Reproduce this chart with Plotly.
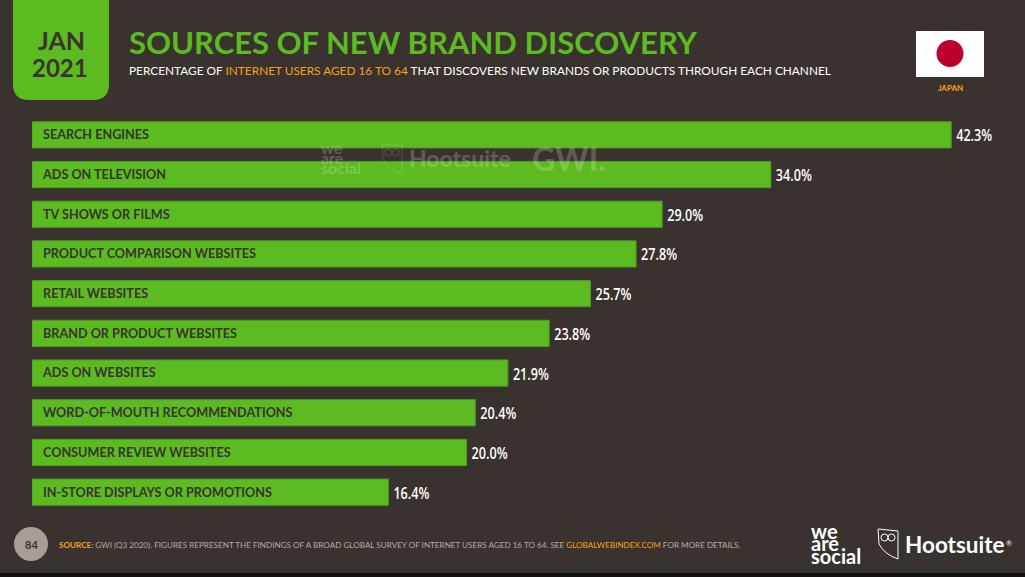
# sources of new brand discovery, japan
import plotly.graph_objects as go

W, H = 1025, 577

channels = ["SEARCH ENGINES", "ADS ON TELEVISION", "TV SHOWS OR FILMS", "PRODUCT COMPARISON WEBSITES",
            "RETAIL WEBSITES", "BRAND OR PRODUCT WEBSITES", "ADS ON WEBSITES",
            "WORD-OF-MOUTH RECOMMENDATIONS", "CONSUMER REVIEW WEBSITES", "IN-STORE DISPLAYS OR PROMOTIONS"]
shares = [42.3, 34.0, 29.0, 27.8, 25.7, 23.8, 21.9, 20.4, 20.0, 16.4]

BG = "#3a322e"
GREEN = "#5bbb21"
DARK = "#3a322e"
ORANGE = "#f7a11a"
FONT = "Lato"

# value labels in the original are a condensed face, none is installed so squeeze them after drawing.
# the stacked we/are/social logo also needs tighter leading than plotly gives
AFTER_DRAW = """
document.body.style.margin = '0';
setTimeout(function () {
  document.querySelectorAll('text.bartext').forEach(function (t) {
    var w = t.getComputedTextLength();
    t.setAttribute('x', parseFloat(t.getAttribute('x')) - (w - 36) / 2 + 2);
    t.setAttribute('textLength', 36);
    t.setAttribute('lengthAdjust', 'spacingAndGlyphs');
  });
  document.querySelectorAll('.annotation-text').forEach(function (t) {
    var lines = t.querySelectorAll('tspan.line');
    if (lines.length == 3) {
      lines.forEach(function (l, i) { l.setAttribute('dy', (i * 0.62) + 'em'); });
    }
  });
}, 50);
"""


# page pixels to paper coordinates
def px(x):
    return x / W


def py(y):
    return 1 - y / H


fig = go.Figure()
fig.add_trace(go.Bar(
    x=shares, y=channels, orientation="h", width=0.66,
    marker=dict(color=GREEN, line=dict(color="#4f9c22", width=1)),
    text=[f"{v:.1f}%" for v in shares], textposition="outside", cliponaxis=False,
    textfont=dict(family="Open Sans", size=17, color="white", weight=600),
    hoverinfo="skip",
))


def label(x, y, text, size, color, anchor="left", weight="normal", family=FONT, opacity=1, height=None, align="center"):
    fig.add_annotation(xref="paper", yref="paper", x=px(x), y=py(y), text=text, showarrow=False,
                       xanchor=anchor, yanchor="middle", opacity=opacity, height=height, align=align,
                       font=dict(family=family, size=size, color=color, weight=weight))


def box(x0, y0, x1, y1, color, kind="rect", layer="below", edge=None, opacity=1):
    fig.add_shape(type=kind, xref="paper", yref="paper", x0=px(x0), y0=py(y0), x1=px(x1), y1=py(y1),
                  fillcolor=color, line=dict(color=edge or color, width=1 if edge else 0), layer=layer,
                  opacity=opacity)


def owl(x, y, opacity=1):
    # shield outline and eye rings, x and y are the top left of the logo
    fig.add_shape(type="path", xref="paper", yref="paper", opacity=opacity, layer="above",
                  line=dict(color="white", width=1),
                  path=f"M {px(x)},{py(y)} L {px(x + 20)},{py(y + 2)} L {px(x + 20)},{py(y + 30)} "
                       f"Q {px(x + 6)},{py(y + 25)} {px(x + 1)},{py(y + 15)} Z")
    box(x + 3, y + 5, x + 10, y + 12, "rgba(0,0,0,0)", "circle", "above", "white", opacity)
    box(x + 10, y + 5, x + 17, y + 12, "rgba(0,0,0,0)", "circle", "above", "white", opacity)


# date tile with rounded lower corners
fig.add_shape(type="path", xref="paper", yref="paper", fillcolor=GREEN, line_width=0, layer="below",
              path=f"M {px(13)},{py(0)} L {px(109)},{py(0)} L {px(109)},{py(84)} "
                   f"Q {px(109)},{py(100)} {px(93)},{py(100)} L {px(29)},{py(100)} "
                   f"Q {px(13)},{py(100)} {px(13)},{py(84)} Z")
label(61, 40, "JAN", 25, DARK, "center", "bold", height=26)
label(60, 67, "2021", 24, DARK, "center", "bold", height=26)

label(127, 42, "SOURCES OF NEW BRAND DISCOVERY", 31, GREEN, weight="bold")
label(127, 71, f"PERCENTAGE OF <span style='color:{ORANGE}'>INTERNET USERS AGED 16 TO 64</span> "
               "THAT DISCOVERS NEW BRANDS OR PRODUCTS THROUGH EACH CHANNEL", 11.85, "white")

# flag
box(916, 31, 984, 77, "white")
box(936.5, 40, 963.5, 67, "#bc002d", "circle")
label(950, 88, "JAPAN", 8, ORANGE, "center", "bold")

# faint watermark over the bars
label(319, 168, "we<br>are<br>social", 16, "white", weight="bold", opacity=0.2, align="left")
owl(382, 144, 0.15)
label(407, 158, "Hootsuite", 23, "white", weight="bold", opacity=0.2)
label(530, 158, "GWI.", 32, "white", weight="bold", opacity=0.2)

# footer
box(14, 527, 48, 561, "#a89f94", "circle")
label(31, 544, "84", 11, DARK, "center", "bold")
label(57, 545, f"<span style='color:{ORANGE}'><b>SOURCE:</b></span> GWI (Q3 2020). FIGURES REPRESENT THE FINDINGS OF A BROAD "
               "GLOBAL SURVEY OF INTERNET USERS AGED 16 TO 64. SEE "
               f"<span style='color:{ORANGE}'>GLOBALWEBINDEX.COM</span> FOR MORE DETAILS.", 8.12, "#b5aca2")
box(0, 573, W, H, "#141210")

# logos
label(809, 557, "we<br>are<br>social", 20, "white", weight="bold", align="left")
owl(878, 529)
label(903, 544, "Hootsuite", 22.5, "white", weight="bold")
label(1004, 543, "®", 7, "white")

fig.update_layout(
    width=W, height=H, margin=dict(l=0, r=0, t=0, b=0), paper_bgcolor=BG, plot_bgcolor=BG,
    showlegend=False, bargap=0.34,
    xaxis=dict(domain=[px(32), 1], range=[0, (W - 32) / 21.73], visible=False),
    yaxis=dict(domain=[py(512), py(115)], autorange="reversed", ticks="", showline=False, showgrid=False,
               ticklabelposition="inside", ticklabelstandoff=8,
               tickfont=dict(family=FONT, size=12.65, color=DARK, weight="bold")),
)

fig.write_html("out.html", config={"displayModeBar": False}, post_script=AFTER_DRAW)
